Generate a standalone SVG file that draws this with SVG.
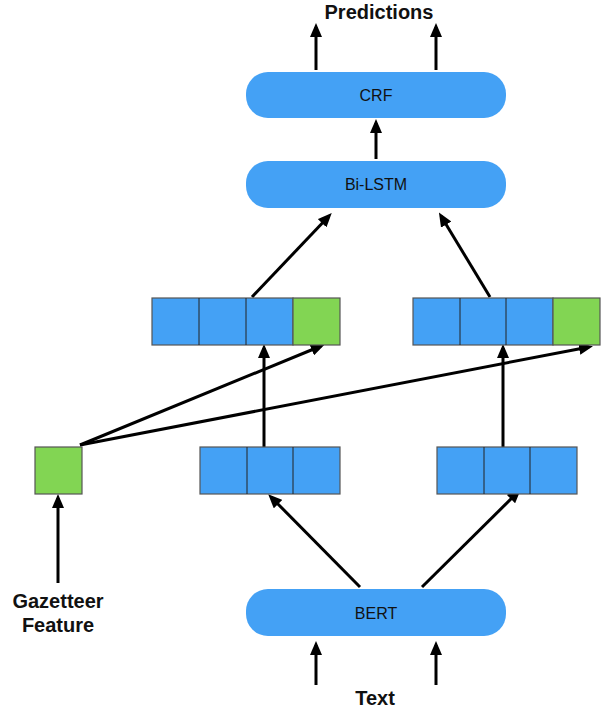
<svg xmlns="http://www.w3.org/2000/svg" width="605" height="710" viewBox="0 0 605 710">
<defs>
<marker id="ah2" markerWidth="14" markerHeight="12" refX="10" refY="6" orient="auto" markerUnits="userSpaceOnUse" viewBox="0 0 14 12">
<path d="M0,0 L14,6 L0,12 z" fill="#000"/>
</marker>
</defs>
<style>
.pill{fill:#44a1f5;}
.lbl{font-family:"Liberation Sans",Arial,sans-serif;font-size:16px;fill:#111;text-anchor:middle;}
.big{font-family:"Liberation Sans",Arial,sans-serif;font-size:20px;font-weight:bold;fill:#111;text-anchor:middle;}
.b{fill:#44a1f5;stroke:#555;stroke-width:1.2;}
.g{fill:#82d553;stroke:#555;stroke-width:1.2;}
.div{stroke:#222;stroke-width:1;}
.c{stroke:#000;stroke-width:3;fill:none;marker-end:url(#ah2);}
</style>
<rect width="605" height="710" fill="#fff"/>
<g id="connectors">
<line class="c" x1="316" y1="70" x2="316" y2="27"/>
<line class="c" x1="436" y1="70" x2="436" y2="27"/>
<line class="c" x1="376" y1="159" x2="376" y2="123"/>
<line class="c" x1="252" y1="297" x2="329" y2="216"/>
<line class="c" x1="490" y1="297" x2="441" y2="216"/>
<line class="c" x1="264" y1="447" x2="264" y2="348"/>
<line class="c" x1="503" y1="447" x2="503" y2="348"/>
<line class="c" x1="80" y1="445" x2="321" y2="346"/>
<line class="c" x1="80" y1="445" x2="589" y2="347"/>
<line class="c" x1="360" y1="587" x2="271" y2="497"/>
<line class="c" x1="422" y1="587" x2="518" y2="492"/>
<line class="c" x1="58" y1="583" x2="58" y2="498"/>
<line class="c" x1="316" y1="685" x2="316" y2="645"/>
<line class="c" x1="436" y1="685" x2="436" y2="645"/>
</g>
<g id="predictions"><text class="big" x="379" y="19">Predictions</text></g>
<g id="crf"><rect class="pill" x="246" y="72" width="260" height="46" rx="22"/><text class="lbl" x="376" y="101">CRF</text></g>
<g id="bilstm"><rect class="pill" x="246" y="161" width="260" height="47" rx="22"/><text class="lbl" x="376" y="190">Bi-LSTM</text></g>
<g id="concat-left">
<rect class="b" x="152" y="298" width="141" height="47"/>
<rect class="g" x="293" y="298" width="47" height="47"/>
<line class="div" x1="199" y1="298" x2="199" y2="345"/>
<line class="div" x1="246" y1="298" x2="246" y2="345"/>
</g>
<g id="concat-right">
<rect class="b" x="413" y="298" width="140" height="47"/>
<rect class="g" x="553" y="298" width="47" height="47"/>
<line class="div" x1="460" y1="298" x2="460" y2="345"/>
<line class="div" x1="506" y1="298" x2="506" y2="345"/>
</g>
<g id="gazetteer-vec"><rect class="g" x="35" y="447" width="47" height="47"/></g>
<g id="emb-left">
<rect class="b" x="200" y="447" width="140" height="47"/>
<line class="div" x1="247" y1="447" x2="247" y2="494"/>
<line class="div" x1="293" y1="447" x2="293" y2="494"/>
</g>
<g id="emb-right">
<rect class="b" x="437" y="447" width="140" height="47"/>
<line class="div" x1="484" y1="447" x2="484" y2="494"/>
<line class="div" x1="530" y1="447" x2="530" y2="494"/>
</g>
<g id="gazetteer-label"><text class="big" x="58" y="608">Gazetteer</text><text class="big" x="58" y="632">Feature</text></g>
<g id="bert"><rect class="pill" x="246" y="589" width="260" height="47" rx="22"/><text class="lbl" x="376" y="619">BERT</text></g>
<g id="text"><text class="big" x="375" y="705">Text</text></g>
</svg>
